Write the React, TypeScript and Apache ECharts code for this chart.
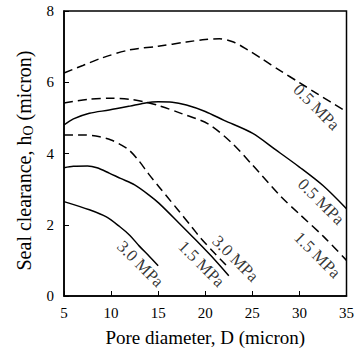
import React, { useEffect, useRef } from "react";
import * as echarts from "echarts";

// 0.5 MPa, dashed
const dA = [5, 7, 9, 12, 15, 18, 20, 21.5, 23, 24.5, 26, 28, 30, 32, 35];
const hA = [6.26, 6.47, 6.68, 6.91, 7.01, 7.13, 7.2, 7.22, 7.13, 6.91, 6.66, 6.32, 5.99, 5.66, 5.17];
// 0.5 MPa, solid
const dB = [5, 6, 7.7, 9.8, 12, 13.5, 15, 16.5, 18, 20, 22, 25, 27.5, 30, 32.5, 35];
const hB = [4.8, 4.97, 5.13, 5.22, 5.33, 5.41, 5.45, 5.44, 5.36, 5.18, 4.93, 4.57, 4.1, 3.62, 3.1, 2.45];
// 1.5 MPa, dashed
const dC = [5, 7.5, 10, 12, 13.5, 15, 17.5, 20.3, 22.8, 25, 28, 30, 32.6, 35];
const hC = [5.42, 5.52, 5.55, 5.52, 5.45, 5.35, 5.12, 4.83, 4.3, 3.68, 2.8, 2.3, 1.66, 1.0];
// 3.0 MPa, dashed
const dD = [5, 7, 8.8, 10, 11, 11.9, 13, 14, 15.1, 16, 17, 18.5, 19.6, 21, 22.2];
const hD = [4.52, 4.52, 4.47, 4.38, 4.25, 4.1, 3.78, 3.42, 3.06, 2.77, 2.45, 1.96, 1.6, 1.2, 0.87];
// 1.5 MPa, solid
const dE = [5, 6, 7.5, 8.5, 9.8, 11, 12.5, 14, 15.1, 17.2, 19, 21, 22.5];
const hE = [3.6, 3.64, 3.65, 3.6, 3.45, 3.3, 3.12, 2.84, 2.6, 2.05, 1.57, 1.02, 0.57];
// 3.0 MPa, solid
const dF = [5, 7.7, 9.5, 10.9, 12, 13, 14, 15];
const hF = [2.65, 2.42, 2.22, 1.95, 1.7, 1.4, 1.13, 0.85];

const xTicks = [5, 10, 15, 20, 25, 30, 35];
const yTicks = [0, 2, 4, 6, 8];

// curve labels: text, D, h
const labelText = ["0.5 MPa", "0.5 MPa", "1.5 MPa", "3.0 MPa", "1.5 MPa", "3.0 MPa"];
const labelD = [31.8, 32.3, 31.9, 23.2, 19.6, 13.1];
const labelH = [5.3, 2.65, 1.15, 1.05, 0.9, 0.9];

const FONT = "'Liberation Serif', 'Times New Roman', serif";

function zip(xs: number[], ys: number[]) {
  return xs.map((x, i) => [x, ys[i]]);
}

export default function App() {
  const ref = useRef<HTMLDivElement>(null);
  useEffect(() => {
    document.body.style.margin = "0";
    const chart = echarts.init(ref.current!, null, { renderer: "svg" });
    const lineSeries = (xs: number[], ys: number[], dashed: boolean) => ({
      type: "line",
      data: zip(xs, ys),
      showSymbol: false,
      smooth: 0.3,
      lineStyle: {
        color: "#000",
        width: 1.5,
        type: dashed ? [9, 5] : "solid",
      },
      silent: true,
    });
    chart.setOption({
      animation: false,
      backgroundColor: "#fff",
      grid: {
        left: 64,
        top: 11,
        width: 285.5,
        height: 285,
        show: true,
        borderColor: "#000",
        borderWidth: 1.5,
      },
      xAxis: {
        type: "value",
        min: xTicks[0],
        max: xTicks[xTicks.length - 1],
        interval: 5,
        name: "Pore diameter, D (micron)",
        nameLocation: "middle",
        nameGap: 32,
        nameTextStyle: { color: "#000", fontFamily: FONT, fontSize: 19 },
        axisLine: { lineStyle: { color: "#000", width: 1.5 } },
        axisTick: { inside: true, length: 5, lineStyle: { color: "#000", width: 1 } },
        axisLabel: { color: "#000", fontFamily: FONT, fontSize: 15, margin: 9 },
        splitLine: { show: false },
      },
      yAxis: {
        type: "value",
        min: yTicks[0],
        max: yTicks[yTicks.length - 1],
        interval: 2,
        name: "Seal clearance, h{sub|O} (micron)",
        nameLocation: "middle",
        nameGap: 29,
        nameTextStyle: {
          color: "#000",
          fontFamily: FONT,
          fontSize: 20,
          padding: [0, 14, 0, 0],
          rich: {
            sub: { fontFamily: FONT, fontSize: 14, color: "#000", verticalAlign: "bottom", padding: [8, 0, 0, 0] },
          },
        },
        axisLine: { show: true, lineStyle: { color: "#000", width: 1.5 } },
        axisTick: { show: true, inside: true, length: 5, lineStyle: { color: "#000", width: 1 } },
        axisLabel: { color: "#000", fontFamily: FONT, fontSize: 15, margin: 10 },
        splitLine: { show: false },
      },
      series: [
        lineSeries(dA, hA, true),
        lineSeries(dB, hB, false),
        lineSeries(dC, hC, true),
        lineSeries(dD, hD, true),
        lineSeries(dE, hE, false),
        lineSeries(dF, hF, false),
        {
          type: "scatter",
          symbolSize: 0,
          silent: true,
          data: labelText.map((t, i) => ({ value: [labelD[i], labelH[i]], name: t })),
          label: {
            show: true,
            position: "inside",
            formatter: (p: any) => p.name,
            rotate: -45,
            color: "#000",
            fontFamily: FONT,
            fontSize: 17,
          },
        },
      ],
    });
    return () => chart.dispose();
  }, []);
  return <div ref={ref} style={{ width: 357, height: 356 }} />;
}
